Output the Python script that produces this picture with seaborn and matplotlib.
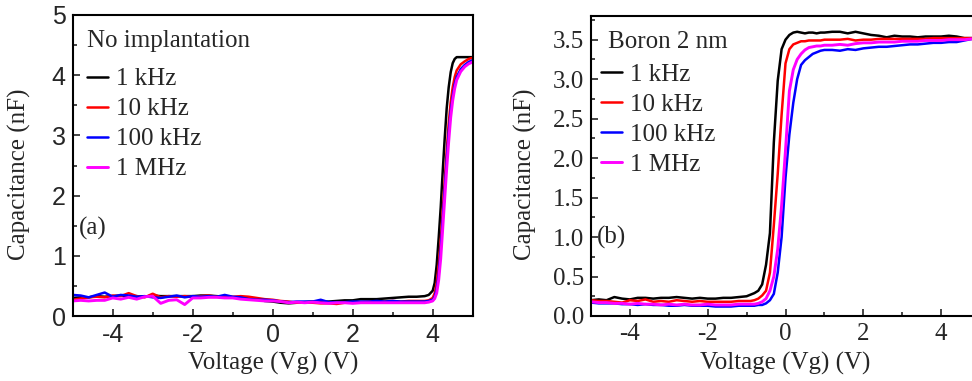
import numpy as np
import pandas as pd
import matplotlib
matplotlib.use("Agg")
import matplotlib.pyplot as plt
import seaborn as sns
from matplotlib.ticker import MultipleLocator

# ---- data ----
freqs = ["1 kHz", "10 kHz", "100 kHz", "1 MHz"]
colors = {"1 kHz": "#000000", "10 kHz": "#ff0000", "100 kHz": "#0000ff", "1 MHz": "#ff00ff"}

# panel (a): no implantation
v_a = list(np.round(np.arange(-5.0, 3.81, 0.2), 2)) + [3.9, 4.0, 4.05, 4.1, 4.15, 4.2, 4.25, 4.3, 4.35,
                                                     4.4, 4.45, 4.5, 4.55, 4.6, 4.7, 4.8, 4.9, 5.0]
c_a_1k = [0.30, 0.31, 0.31, 0.33, 0.32, 0.33, 0.34, 0.33, 0.33, 0.32, 0.34, 0.33, 0.33, 0.33, 0.33,
          0.33, 0.34, 0.34, 0.33, 0.32, 0.31, 0.30, 0.30, 0.28, 0.25, 0.24, 0.22, 0.21, 0.22, 0.23,
          0.24, 0.24, 0.24, 0.25, 0.26, 0.26, 0.28, 0.28, 0.28, 0.29, 0.30, 0.31, 0.32, 0.32, 0.33,
          0.35, 0.42, 0.55, 0.85, 1.30, 1.80, 2.40, 2.95, 3.45, 3.80, 4.05, 4.20, 4.27, 4.30, 4.30,
          4.30, 4.30, 4.30]
c_a_10k = [0.27, 0.29, 0.31, 0.32, 0.31, 0.34, 0.33, 0.38, 0.33, 0.31, 0.37, 0.31, 0.33, 0.32, 0.33,
           0.32, 0.33, 0.34, 0.32, 0.33, 0.32, 0.33, 0.32, 0.30, 0.28, 0.27, 0.25, 0.24, 0.22, 0.22,
           0.22, 0.21, 0.21, 0.20, 0.22, 0.23, 0.23, 0.24, 0.24, 0.24, 0.25, 0.24, 0.25, 0.25, 0.25,
           0.26, 0.30, 0.38, 0.55, 0.85, 1.25, 1.75, 2.25, 2.75, 3.20, 3.55, 3.80, 3.97, 4.08, 4.18,
           4.23, 4.27, 4.29]
c_a_100k = [0.35, 0.34, 0.31, 0.35, 0.39, 0.32, 0.35, 0.34, 0.32, 0.33, 0.31, 0.30, 0.32, 0.34, 0.31,
            0.33, 0.32, 0.33, 0.32, 0.35, 0.32, 0.31, 0.28, 0.27, 0.27, 0.26, 0.24, 0.23, 0.24, 0.24,
            0.24, 0.27, 0.23, 0.23, 0.23, 0.24, 0.24, 0.24, 0.25, 0.24, 0.25, 0.24, 0.24, 0.24, 0.24,
            0.25, 0.27, 0.32, 0.45, 0.70, 1.10, 1.60, 2.10, 2.60, 3.05, 3.40, 3.65, 3.85, 3.97, 4.10,
            4.17, 4.22, 4.25]
c_a_1M = [0.25, 0.26, 0.25, 0.26, 0.26, 0.30, 0.28, 0.31, 0.28, 0.32, 0.33, 0.21, 0.26, 0.27, 0.19,
          0.30, 0.30, 0.31, 0.31, 0.30, 0.30, 0.28, 0.27, 0.26, 0.25, 0.25, 0.24, 0.22, 0.23, 0.22,
          0.23, 0.22, 0.21, 0.22, 0.22, 0.21, 0.22, 0.22, 0.22, 0.22, 0.22, 0.22, 0.22, 0.22, 0.22,
          0.23, 0.25, 0.29, 0.38, 0.60, 0.95, 1.45, 1.95, 2.45, 2.90, 3.30, 3.58, 3.78, 3.92, 4.06,
          4.14, 4.19, 4.22]

# panel (b): boron 2 nm
v_b = (list(np.round(np.arange(-5.0, -1.19, 0.2), 2)) + list(np.round(np.arange(-1.0, 1.01, 0.1), 2))
       + list(np.round(np.arange(1.2, 5.01, 0.2), 2)))
c_b_1k = [0.20, 0.21, 0.20, 0.24, 0.22, 0.21, 0.23, 0.23, 0.22, 0.23, 0.23, 0.24, 0.23, 0.22, 0.23,
          0.22, 0.22, 0.23, 0.23, 0.24,
          0.25, 0.27, 0.29, 0.32, 0.40, 0.65, 1.05, 2.20, 2.98, 3.38, 3.50, 3.56, 3.59, 3.60, 3.59,
          3.58, 3.59, 3.59, 3.58, 3.59, 3.59,
          3.60, 3.60, 3.58, 3.60, 3.58, 3.56, 3.55, 3.53, 3.55, 3.54, 3.54, 3.53, 3.54, 3.54, 3.54,
          3.55, 3.54, 3.52, 3.52, 3.51]
c_b_10k = [0.20, 0.19, 0.19, 0.18, 0.17, 0.20, 0.19, 0.21, 0.18, 0.19, 0.18, 0.20, 0.19, 0.18, 0.19,
           0.18, 0.18, 0.18, 0.18, 0.19,
           0.19, 0.19, 0.20, 0.22, 0.26, 0.32, 0.55, 1.15, 1.80, 2.55, 3.20, 3.38, 3.44, 3.46, 3.48,
           3.48, 3.49, 3.49, 3.49, 3.49, 3.50,
           3.50, 3.50, 3.51, 3.49, 3.50, 3.50, 3.51, 3.51, 3.51, 3.51, 3.51, 3.51, 3.51, 3.52, 3.52,
           3.52, 3.52, 3.52, 3.52, 3.52]
c_b_100k = [0.17, 0.16, 0.16, 0.16, 0.15, 0.15, 0.14, 0.15, 0.14, 0.14, 0.13, 0.13, 0.14, 0.13, 0.13,
            0.13, 0.12, 0.12, 0.12, 0.13,
            0.13, 0.13, 0.13, 0.14, 0.14, 0.16, 0.20, 0.28, 0.55, 1.00, 1.75, 2.30, 2.70, 3.00, 3.18,
            3.24, 3.28, 3.32, 3.34, 3.36, 3.37,
            3.37, 3.36, 3.38, 3.37, 3.39, 3.40, 3.41, 3.41, 3.42, 3.43, 3.44, 3.44, 3.45, 3.46, 3.46,
            3.47, 3.47, 3.49, 3.51, 3.52]
c_b_1M = [0.18, 0.17, 0.17, 0.16, 0.16, 0.15, 0.16, 0.15, 0.15, 0.14, 0.15, 0.14, 0.15, 0.14, 0.14,
          0.15, 0.14, 0.14, 0.14, 0.15,
          0.15, 0.15, 0.15, 0.16, 0.18, 0.22, 0.32, 0.50, 0.85, 1.40, 2.10, 2.85, 3.12, 3.25, 3.32,
          3.37, 3.40, 3.41, 3.42, 3.42, 3.43,
          3.43, 3.44, 3.43, 3.45, 3.46, 3.46, 3.47, 3.47, 3.47, 3.48, 3.48, 3.48, 3.49, 3.49, 3.49,
          3.50, 3.50, 3.50, 3.51, 3.52]


def to_long(v, series):
    frames = []
    for f, c in zip(freqs, series):
        frames.append(pd.DataFrame({"V": v, "C": c, "freq": f}))
    return pd.concat(frames, ignore_index=True)


df_a = to_long(v_a, [c_a_1k, c_a_10k, c_a_100k, c_a_1M])
df_b = to_long(v_b, [c_b_1k, c_b_10k, c_b_100k, c_b_1M])

sns.set_style("ticks")
plt.rcParams["font.family"] = ["Liberation Serif", "DejaVu Serif"]
plt.rcParams["axes.linewidth"] = 1.5

FS = 18
fig = plt.figure(figsize=(9.72, 3.81), dpi=100)
ax_a = fig.add_axes([72.7 / 972, 65 / 381, 400 / 972, 301 / 381])
ax_b = fig.add_axes([591 / 972, 65 / 381, 389 / 972, 300 / 381])


def draw(ax, df, tag, title):
    for f in freqs:
        sub = df[df["freq"] == f]
        sns.lineplot(data=sub, x="V", y="C", ax=ax, color=colors[f], label=f,
                     linewidth=2.1 if f == "1 MHz" else 1.8, sort=False, estimator=None)
    ax.set_xlim(-5, 5)
    ax.xaxis.set_minor_locator(MultipleLocator(1))
    ax.tick_params(which="both", direction="in", top=False, right=False, width=1.2)
    ax.tick_params(which="major", length=5, pad=5)
    ax.tick_params(which="minor", length=3)
    for s in ax.spines.values():
        s.set_visible(True)
        s.set_linewidth(1.5)
        s.set_color("black")
    ax.set_xlabel("Voltage (Vg) (V)", fontsize=FS)
    ax.set_ylabel("Capacitance (nF)", fontsize=FS)
    ax.text(0.016, tag[1], tag[0], transform=ax.transAxes, fontsize=FS, va="center", ha="left")
    ax.text(title[1], title[2], title[0], transform=ax.transAxes, fontsize=FS, va="center", ha="left")


draw(ax_a, df_a, ("(a)", 0.29), ("No implantation", 0.036, 0.914))
ax_a.set_ylim(0, 5)
ax_a.yaxis.set_minor_locator(MultipleLocator(0.5))
ax_a.set_yticks([0, 1, 2, 3, 4, 5])
ax_a.set_yticklabels(["0", "1", "2", "3", "4", "5"], fontfamily="Liberation Sans", fontsize=FS)
ax_a.set_xticks([-4, -2, 0, 2, 4])
ax_a.set_xticklabels(["-4", "-2", "0", "2", "4"], fontfamily="Liberation Sans", fontsize=FS)

draw(ax_b, df_b, ("(b)", 0.263), ("Boron 2 nm", 0.044, 0.913))
ax_b.set_ylim(0, 3.8)
ax_b.yaxis.set_minor_locator(MultipleLocator(0.25))
ax_b.set_yticks([0, 0.5, 1, 1.5, 2, 2.5, 3, 3.5])
ax_b.set_yticklabels(["0.0", "0.5", "1.0", "1.5", "2.0", "2.5", "3.0", "3.5"],
                     fontfamily="Liberation Serif", fontsize=FS)
ax_b.set_xticks([-4, -2, 0, 2, 4])
ax_b.set_xticklabels(["-4", "-2", "0", "2", "4"], fontfamily="Liberation Serif", fontsize=FS)

ax_a.yaxis.set_label_coords(-0.104, 0.47)
ax_b.yaxis.set_label_coords(-0.139, 0.473)
ax_a.xaxis.set_label_coords(0.5, -0.12)
ax_b.xaxis.set_label_coords(0.5, -0.12)

leg_a = ax_a.legend(loc="upper left", bbox_to_anchor=(0.036, 0.824),
                    frameon=False, fontsize=FS, handlelength=0.85, borderpad=0,
                    handletextpad=0.3, labelspacing=0.3, borderaxespad=0)
leg_b = ax_b.legend(loc="upper left", bbox_to_anchor=(0.026, 0.843),
                    frameon=False, fontsize=FS, handlelength=0.85, borderpad=0,
                    handletextpad=0.3, labelspacing=0.3, borderaxespad=0)

fig.savefig("out.png", dpi=100)
